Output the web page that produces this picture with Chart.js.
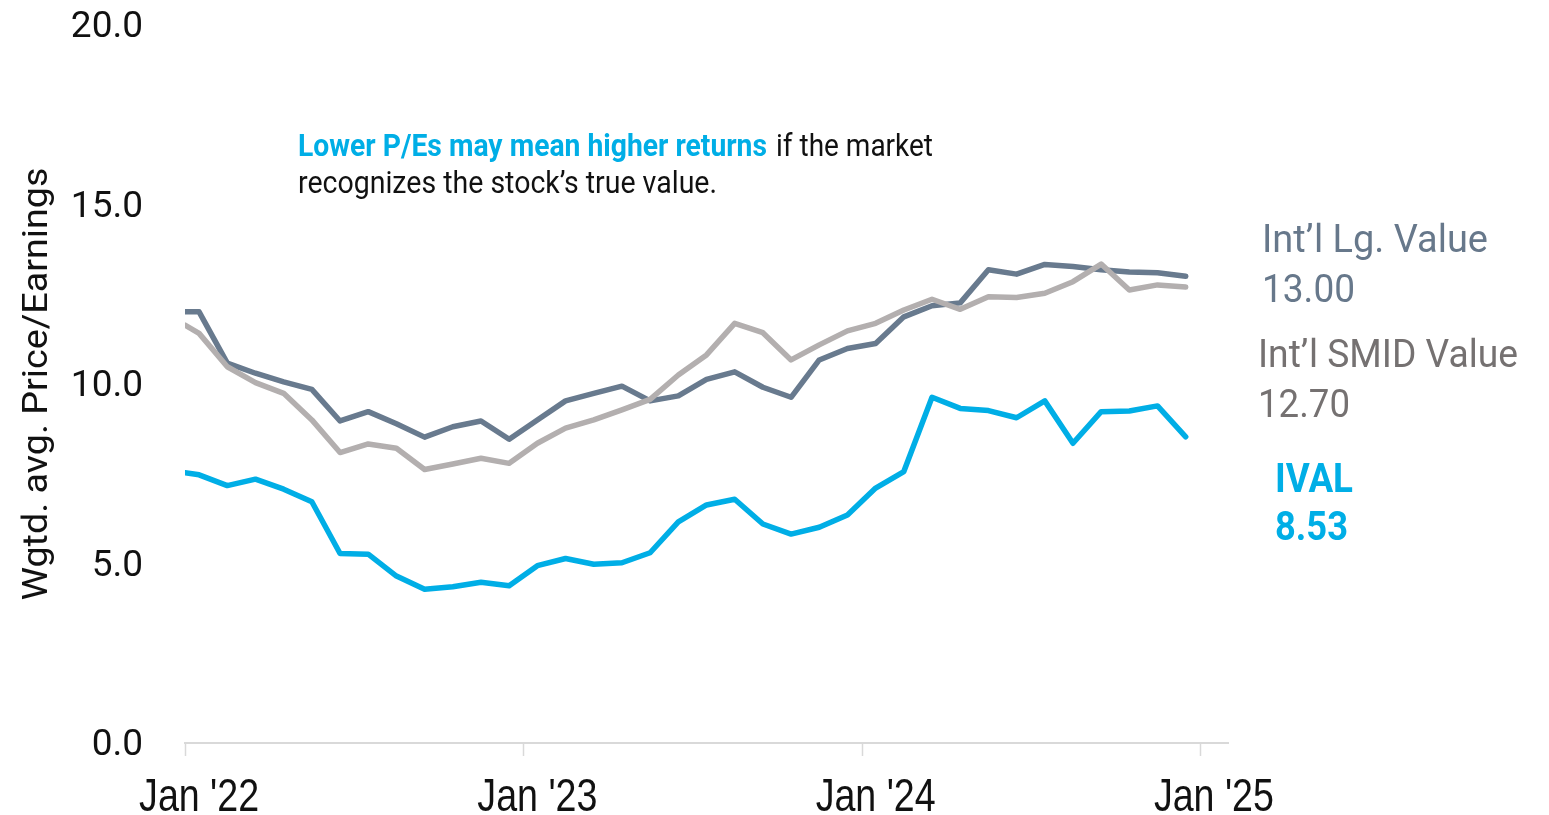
<!DOCTYPE html>
<html>
<head>
<meta charset="utf-8">
<title>Wgtd. avg. Price/Earnings</title>
<script src="https://cdn.jsdelivr.net/npm/chart.js@4.4.1/dist/chart.umd.min.js"></script>
<style>
    html, body { margin: 0; padding: 0; background: #fff; }
    #wrap { position: relative; width: 1549px; height: 815px; }
</style>
</head>
<body>
<div id="wrap"><canvas id="peChart" width="1549" height="815"></canvas></div>
<script>
// ------------------------------------
// Data (months since Jan '22; first point sits on the axis start)
// ------------------------------------
const monthPos = [0, 0.5, 1.5, 2.5, 3.5, 4.5, 5.5, 6.5, 7.5, 8.5, 9.5, 10.5, 11.5,
    12.5, 13.5, 14.5, 15.5, 16.5, 17.5, 18.5, 19.5, 20.5, 21.5, 22.5, 23.5,
    24.5, 25.5, 26.5, 27.5, 28.5, 29.5, 30.5, 31.5, 32.5, 33.5, 34.5, 35.5];

const lgValue = [12.01, 12.01, 10.58, 10.30, 10.06, 9.85, 8.97, 9.23, 8.89, 8.52, 8.81, 8.97, 8.46,
    9.00, 9.53, 9.74, 9.94, 9.53, 9.67, 10.13, 10.34, 9.91, 9.63, 10.67, 10.99,
    11.13, 11.87, 12.18, 12.26, 13.18, 13.06, 13.33, 13.27, 13.18, 13.12, 13.10, 13.00];

const smidValue = [11.64, 11.41, 10.48, 10.04, 9.74, 9.00, 8.09, 8.33, 8.21, 7.62, 7.77, 7.93, 7.79,
    8.35, 8.77, 9.00, 9.28, 9.57, 10.25, 10.81, 11.69, 11.43, 10.67, 11.09, 11.48,
    11.69, 12.06, 12.36, 12.08, 12.43, 12.41, 12.53, 12.85, 13.34, 12.62, 12.76, 12.70];

const ivalValue = [7.53, 7.47, 7.17, 7.35, 7.07, 6.72, 5.28, 5.26, 4.65, 4.28, 4.35, 4.48, 4.38,
    4.94, 5.14, 4.98, 5.02, 5.30, 6.16, 6.63, 6.79, 6.10, 5.82, 6.01, 6.35,
    7.10, 7.56, 9.63, 9.32, 9.26, 9.06, 9.53, 8.35, 9.23, 9.25, 9.39, 8.53];

const yTicks = [0, 5, 10, 15, 20];
const xTickMonths = [0, 12, 24, 36];
const xTickLabels = ["Jan '22", "Jan '23", "Jan '24", "Jan '25"];

const COLORS = {
    lg: '#687a8e',
    lgText: '#67788b',
    smid: '#b3afaf',
    smidText: '#757171',
    ival: '#00aee6',
    text: '#111111'
};

function toPoints(values) {
    return values.map((v, i) => ({ x: monthPos[i], y: v }));
}

// draw text squeezed to a given width (stand-in for a condensed face)
function fitText(ctx, text, x, y, font, color, width, align) {
    ctx.save();
    ctx.font = font;
    const w = ctx.measureText(text).width;
    ctx.translate(x, y);
    ctx.scale(width / w, 1);
    ctx.fillStyle = color;
    ctx.textAlign = align || 'left';
    ctx.textBaseline = 'alphabetic';
    ctx.fillText(text, 0, 0);
    ctx.restore();
}

// ------------------------------------
// Plugins: x ticks + annotations
// ------------------------------------
const xAxisTicks = {
    id: 'xAxisTicks',
    afterDraw(chart) {
        const ctx = chart.ctx;
        const xs = chart.scales.x;
        const bottom = chart.chartArea.bottom;
        ctx.save();
        ctx.strokeStyle = '#d9d9d9';
        ctx.lineWidth = 1.5;
        xTickMonths.forEach((m, i) => {
            const px = Math.round(xs.getPixelForValue(m)) + 0.5;
            ctx.beginPath();
            ctx.moveTo(px, bottom);
            ctx.lineTo(px, bottom + 13);
            ctx.stroke();
            // label sits half a month right of the tick
            fitText(ctx, xTickLabels[i], xs.getPixelForValue(m + 0.5), 811,
                '46px "Liberation Sans"', COLORS.text, 120, 'center');
        });
        ctx.restore();
    }
};

const annotations = {
    id: 'annotations',
    afterDraw(chart) {
        const ctx = chart.ctx;
        const area = chart.chartArea;

        // y axis title
        ctx.save();
        ctx.translate(47, (area.top + area.bottom) / 2);
        ctx.rotate(-Math.PI / 2);
        ctx.font = '35px Roboto';
        const t = 'Wgtd. avg. Price/Earnings';
        const tw = ctx.measureText(t).width;
        ctx.scale(433 / tw, 1);
        ctx.fillStyle = COLORS.text;
        ctx.textAlign = 'center';
        ctx.textBaseline = 'alphabetic';
        ctx.fillText(t, 0, 0);
        ctx.restore();

        // callout
        fitText(ctx, 'Lower P/Es may mean higher returns', 298, 156, 'bold 32px Roboto', COLORS.ival, 469);
        fitText(ctx, 'if the market', 776, 156, '32px Roboto', COLORS.text, 157);
        fitText(ctx, 'recognizes the stock\u2019s true value.', 298, 193, '32px Roboto', COLORS.text, 419);

        // end labels
        fitText(ctx, 'Int\u2019l Lg. Value', 1262, 252, '38px Roboto', COLORS.lgText, 226);
        fitText(ctx, lgValue[lgValue.length - 1].toFixed(2), 1262, 302, '38px Roboto', COLORS.lgText, 93);
        fitText(ctx, 'Int\u2019l SMID Value', 1258, 367, '38px Roboto', COLORS.smidText, 260);
        fitText(ctx, smidValue[smidValue.length - 1].toFixed(2), 1258, 417, '38px Roboto', COLORS.smidText, 92);
        fitText(ctx, 'IVAL', 1275, 492, 'bold 40px Roboto', COLORS.ival, 78);
        fitText(ctx, ivalValue[ivalValue.length - 1].toFixed(2), 1275, 540, 'bold 40px Roboto', COLORS.ival, 73);
    }
};

// ------------------------------------
// Chart
// ------------------------------------
function initChart() {
    const ctx = document.getElementById('peChart').getContext('2d');
    new Chart(ctx, {
        type: 'line',
        data: {
            datasets: [
                {
                    label: 'IVAL',
                    data: toPoints(ivalValue),
                    borderColor: COLORS.ival,
                    order: 0
                },
                {
                    label: "Int'l SMID Value",
                    data: toPoints(smidValue),
                    borderColor: COLORS.smid,
                    order: 1
                },
                {
                    label: "Int'l Lg. Value",
                    data: toPoints(lgValue),
                    borderColor: COLORS.lg,
                    order: 2
                }
            ]
        },
        options: {
            responsive: false,
            animation: false,
            devicePixelRatio: 1,
            elements: {
                line: { borderWidth: 5.5, tension: 0, fill: false, borderCapStyle: 'round', borderJoinStyle: 'round' },
                point: { radius: 0, hoverRadius: 0 }
            },
            layout: { padding: { top: 25, right: 321, left: 0, bottom: 0 } },
            plugins: {
                legend: { display: false },
                tooltip: { enabled: false }
            },
            scales: {
                x: {
                    type: 'linear',
                    min: 0,
                    max: 37,
                    grid: { display: false, drawTicks: false },
                    border: { display: true, color: '#d9d9d9', width: 2 },
                    afterBuildTicks: s => { s.ticks = xTickMonths.map(m => ({ value: m + 0.5 })); },
                    afterFit: s => { s.height = 72; s.paddingLeft = 0; s.paddingRight = 0; },
                    ticks: { display: false }
                },
                y: {
                    min: 0,
                    max: 20,
                    grid: { display: false, drawTicks: false },
                    border: { display: false },
                    afterBuildTicks: s => { s.ticks = yTicks.map(v => ({ value: v })); },
                    afterFit: s => { s.width = 185; s.paddingTop = 0; s.paddingBottom = 0; },
                    ticks: {
                        padding: 42,
                        labelOffset: 3,
                        color: COLORS.text,
                        font: { family: 'Roboto', size: 37 },
                        callback: v => v.toFixed(1)
                    }
                }
            }
        },
        plugins: [xAxisTicks, annotations]
    });
}

window.onload = function() {
    initChart();
};
</script>
</body>
</html>
